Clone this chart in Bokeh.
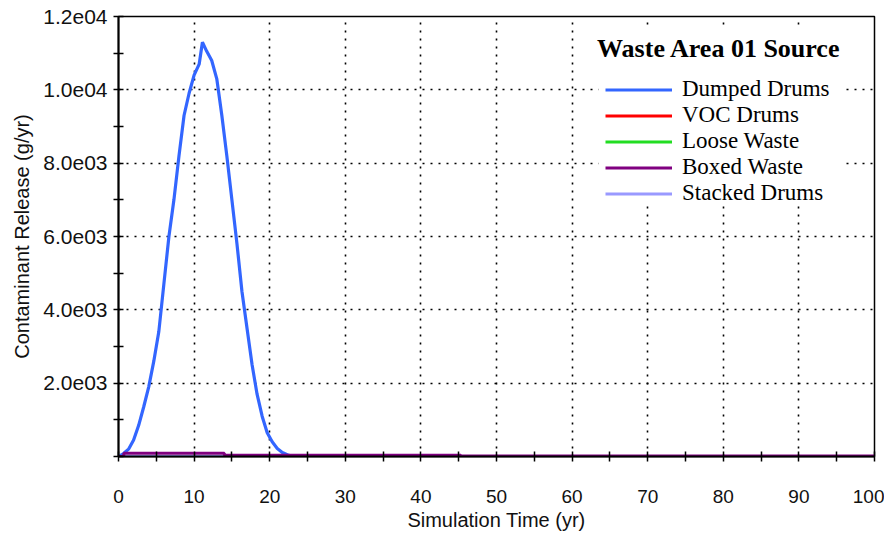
from bokeh.plotting import figure
from bokeh.models import Range1d, FixedTicker, Legend, LegendItem, Label, BoxAnnotation
from bokeh.embed import file_html
from bokeh.resources import INLINE

# ---- data ----
time_dumped = [0, 0.67, 1.33, 2.0, 2.67, 3.33, 4.0, 4.67, 5.33, 6.0, 6.67, 7.33, 8.0,
               8.67, 9.33, 10.0, 10.67, 11.1, 11.67, 12.33, 13.0, 13.67, 14.33, 15.0,
               15.67, 16.33, 17.0, 17.67, 18.33, 19.0, 19.67, 20.33, 21.0, 21.67, 22.33,
               23.0, 100]
release_dumped = [0, 80, 200, 450, 850, 1350, 1900, 2600, 3400, 4700, 6000, 7000, 8200,
                  9300, 9900, 10400, 10700, 11300, 11050, 10800, 10300, 9300, 8200, 7000,
                  5800, 4500, 3500, 2500, 1700, 1100, 650, 400, 220, 110, 50,
                  0, 0]
time_boxed = [0, 0.7, 14.0, 45.3, 100]
release_boxed = [0, 90, 35, 15, 15]
time_other = [0, 100]
release_voc = [0, 0]
release_loose = [0, 0]
release_stacked = [0, 0]

series_names = ["Dumped Drums", "VOC Drums", "Loose Waste", "Boxed Waste", "Stacked Drums"]
series_colors = ["#3366FF", "#FF0000", "#22DD22", "#800080", "#9999FF"]

x_ticks = [0, 10, 20, 30, 40, 50, 60, 70, 80, 90, 100]
x_minor_ticks = [5, 15, 25, 35, 45, 55, 65, 75, 85, 95]
y_ticks = [0, 2000, 4000, 6000, 8000, 10000, 12000]
y_tick_labels = ["", "2.0e03", "4.0e03", "6.0e03", "8.0e03", "1.0e04", "1.2e04"]
y_minor_ticks = [1000, 3000, 5000, 7000, 9000, 11000]

legend_title = "Waste Area 01 Source"

# ---- figure ----
p = figure(frame_width=756, frame_height=440, output_backend="svg", toolbar_location=None,
           x_range=Range1d(0, 100), y_range=Range1d(0, 12000),
           min_border_left=118, min_border_right=10, min_border_top=16, min_border_bottom=70)
p.background_fill_color = "white"
p.border_fill_color = "white"
p.outline_line_color = "black"
p.outline_line_width = 1.5

sans = "Liberation Sans"
serif = "Liberation Serif"

for ax in (p.xaxis[0], p.yaxis[0]):
    ax.axis_line_color = "black"
    ax.axis_line_width = 2
    ax.major_tick_line_color = "black"
    ax.minor_tick_line_color = "black"
    ax.major_tick_line_width = 1.5
    ax.minor_tick_line_width = 1.5
    ax.major_tick_in = 5
    ax.major_tick_out = 5
    ax.minor_tick_in = 5
    ax.minor_tick_out = 5
    ax.major_label_text_font = sans
    ax.major_label_text_color = "#111111"
    ax.axis_label_text_font = sans
    ax.axis_label_text_font_style = "normal"
    ax.axis_label_text_color = "#111111"
    ax.axis_label_text_font_size = "20px"

p.xaxis.ticker = FixedTicker(ticks=x_ticks, minor_ticks=x_minor_ticks)
p.yaxis.ticker = FixedTicker(ticks=y_ticks, minor_ticks=y_minor_ticks)
p.yaxis.major_label_overrides = {t: s for t, s in zip(y_ticks, y_tick_labels)}
p.xaxis.major_label_text_font_size = "19px"
p.yaxis.major_label_text_font_size = "21px"
p.xaxis.major_label_standoff = 28
p.yaxis.major_label_standoff = 6
p.xaxis.axis_label = "Simulation Time (yr)"
p.yaxis.axis_label = "Contaminant Release (g/yr)"
p.xaxis.axis_label_standoff = 3
p.yaxis.axis_label_standoff = 7

for g in (p.xgrid[0], p.ygrid[0]):
    g.grid_line_color = "black"
    g.grid_line_width = 1.6
    g.grid_line_dash = "2 6"
p.xgrid.ticker = FixedTicker(ticks=x_ticks)
p.ygrid.ticker = FixedTicker(ticks=y_ticks)

# ---- series ----
r_voc = p.step(time_other, release_voc, mode="after", line_color=series_colors[1], line_width=3)
r_loose = p.step(time_other, release_loose, mode="after", line_color=series_colors[2], line_width=3)
r_stacked = p.step(time_other, release_stacked, mode="after", line_color=series_colors[4], line_width=3)
r_dumped = p.line(time_dumped, release_dumped, line_color=series_colors[0], line_width=3.2)
r_boxed = p.step(time_boxed, release_boxed, mode="after", line_color=series_colors[3], line_width=3)

# white panel behind the legend
cover = BoxAnnotation(left=63.5, right=96.2, bottom=6900, top=11650,
                      fill_color="white", fill_alpha=1.0, line_alpha=0)
p.add_layout(cover)

title = Label(x=63.3, y=11120, text=legend_title, text_font=serif, text_font_style="bold",
              text_font_size="26px", text_color="black", text_baseline="alphabetic")
p.add_layout(title)

renderers = [r_dumped, r_voc, r_loose, r_boxed, r_stacked]
legend = Legend(items=[LegendItem(label=n, renderers=[r]) for n, r in zip(series_names, renderers)],
                location=(483, 246), background_fill_alpha=0, border_line_alpha=0,
                padding=4, spacing=0, glyph_width=67, glyph_height=23, label_height=23,
                label_standoff=10, label_text_font=serif, label_text_font_size="23px",
                label_text_color="black", margin=0)
p.add_layout(legend)

open("out.html", "w").write(file_html(p, INLINE))
